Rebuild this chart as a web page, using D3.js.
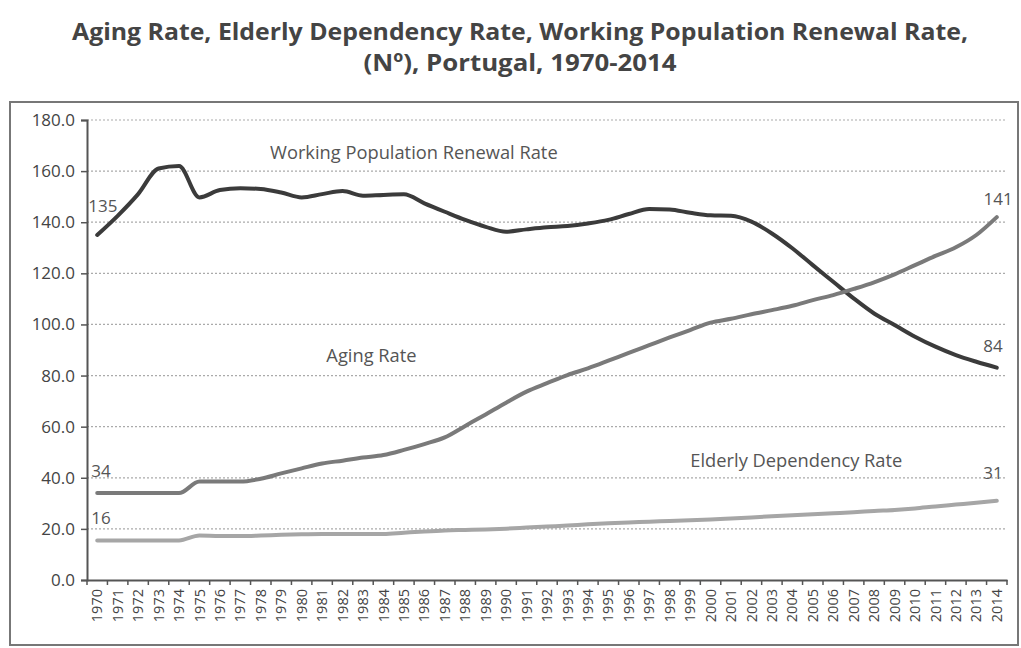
<!DOCTYPE html>
<html><head><meta charset="utf-8">
<script src="https://cdn.jsdelivr.net/npm/d3@7"></script>
<style>body{margin:0;background:#fff}svg{display:block}</style>
</head><body>
<script>
const years = d3.range(1970, 2015).map(String);
const renewal = [135,142.5,151,161,162,149.7,152.6,153.3,153,151.6,149.7,151,152.2,150.4,150.7,150.9,147.4,144.1,140.9,138.2,136.3,137.2,138,138.5,139.5,140.9,143.2,145.2,145,143.7,142.7,142.5,140.2,135.6,129.8,123.2,116.7,110.2,104.3,99.8,95.2,91.3,88,85.4,83.1];
const aging = [34,34,34,34,34,38.5,38.5,38.5,39.6,41.7,43.7,45.6,46.7,47.9,48.9,50.9,53.2,55.8,60.3,64.8,69.4,73.7,77,80.2,82.8,85.8,88.9,91.9,94.9,97.8,100.7,102.2,104,105.6,107.3,109.5,111.5,113.9,116.5,119.6,123.2,126.8,130.2,135,142];
const elderly = [15.5,15.5,15.5,15.5,15.5,17.4,17.2,17.2,17.4,17.7,17.9,18,18,18,18,18.5,19,19.4,19.6,19.8,20.1,20.5,20.9,21.3,21.8,22.2,22.5,22.8,23.1,23.4,23.7,24.1,24.5,24.9,25.3,25.7,26.1,26.5,27,27.4,28,28.8,29.5,30.2,31];
const yTicks = [0,20,40,60,80,100,120,140,160,180];
const seriesNames = ["Working Population Renewal Rate","Aging Rate","Elderly Dependency Rate"];
const startLabels = ["135","34","16"];
const endLabels = ["84","141","31"];
const titleLines = ["Aging Rate, Elderly Dependency Rate, Working Population Renewal Rate,","(Nº), Portugal, 1970-2014"];

(function(){
const W=1021,H=648;
const svg=d3.select("body").append("svg").attr("width",W).attr("height",H);
const font="'Open Sans', 'DejaVu Sans', sans-serif";
const mL=87,mR=1007,mT=120,mB=580;

// frame
svg.append("rect").attr("x",10).attr("y",102).attr("width",1008).attr("height",543)
  .attr("fill","none").attr("stroke","#777").attr("stroke-width",2);

// title
const tl=[896,313];
titleLines.forEach((s,i)=>{
  svg.append("text").attr("x",520).attr("y",40+i*31).attr("text-anchor","middle")
   .attr("font-family",font).attr("font-weight","bold").attr("font-size",24).attr("fill","#444")
   .attr("textLength",tl[i]).attr("lengthAdjust","spacingAndGlyphs").text(s);
});

const x=d3.scaleBand().domain(years).range([mL,mR]);
const y=d3.scaleLinear().domain([0,180]).range([mB,mT]);

// grid
svg.append("g").selectAll("line").data(yTicks.filter(d=>d>0)).join("line")
  .attr("x1",mL).attr("x2",mR).attr("y1",d=>y(d)).attr("y2",d=>y(d))
  .attr("stroke","#aaa").attr("stroke-width",1.2).attr("stroke-dasharray","2,2");

// y axis
const ya=svg.append("g").attr("transform",`translate(${mL},0)`)
  .call(d3.axisLeft(y).tickValues(yTicks).tickFormat(d3.format(".1f")).tickSize(6).tickPadding(6));
ya.select(".domain").attr("stroke","#555").attr("stroke-width",2);
ya.selectAll(".tick line").attr("stroke","#555").attr("stroke-width",1.5);
ya.selectAll("text").attr("font-family",font).attr("font-size",17).attr("fill","#444");

// x axis
const xa=svg.append("g").attr("transform",`translate(0,${mB})`)
  .call(d3.axisBottom(x).tickSize(0).tickPadding(0));
xa.select(".domain").attr("stroke","#555").attr("stroke-width",2);
xa.selectAll(".tick text").attr("font-family",font).attr("font-size",14.5).attr("fill","#444")
  .attr("text-anchor","end").attr("transform","translate(0,9) rotate(-90)").attr("dy","0.35em").attr("x",0).attr("y",0);
// boundary ticks
svg.append("g").selectAll("line").data(years.concat(["end"])).join("line")
  .attr("x1",(d,i)=>mL+i*x.bandwidth()).attr("x2",(d,i)=>mL+i*x.bandwidth())
  .attr("y1",mB).attr("y2",mB+5).attr("stroke","#555").attr("stroke-width",1.5);

const line=d3.line().x((d,i)=>x(years[i])+x.bandwidth()/2).y(d=>y(d)).curve(d3.curveMonotoneX);
const data=[renewal,aging,elderly];
const colors=["#3b3b3b","#7a7a7a","#a6a6a6"];
data.forEach((s,k)=>{
  svg.append("path").datum(s).attr("d",line).attr("fill","none")
    .attr("stroke",colors[k]).attr("stroke-width",4).attr("stroke-linejoin","round").attr("stroke-linecap","round");
});

function txt(xp,yp,s,anchor,fs){
  svg.append("text").attr("x",xp).attr("y",yp).attr("text-anchor",anchor||"start")
   .attr("font-family",font).attr("font-size",fs||17).attr("fill","#555").text(s);
}
txt(x("1979")-1,159,seriesNames[0],"start",18.3);
txt(x("1982")-6,362,seriesNames[1],"start",18.3);
txt(x("2000")-10,467,seriesNames[2],"start",18.3);
const cx=i=>x(years[i])+x.bandwidth()/2;
txt(cx(0)-9,y(renewal[0])-23,startLabels[0]);
txt(cx(0)-6,y(aging[0])-16,startLabels[1]);
txt(cx(0)-6,y(elderly[0])-16,startLabels[2]);
const n=years.length-1;
txt(cx(n)+16,y(aging[n])-12,endLabels[1],"end");
txt(cx(n)+6,y(renewal[n])-16,endLabels[0],"end");
txt(cx(n)+6,y(elderly[n])-22,endLabels[2],"end");
})();
</script>
</body></html>
